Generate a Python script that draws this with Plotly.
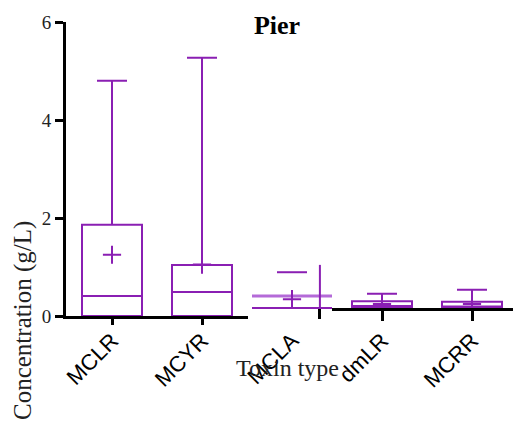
import plotly.graph_objects as go

# Toxin concentrations at the Pier site (box statistics, g/L)
categories = ["MCLR", "MCYR", "MCLA", "dmLR", "MCRR"]
q1 = [0.0, 0.0, 0.0, 0.0, 0.0]
median = [0.41, 0.49, 0.0, 0.04, 0.03]
q3 = [1.86, 1.04, 0.245, 0.14, 0.13]
lower = [0.0, 0.0, 0.0, 0.0, 0.0]
upper = [4.80, 5.27, 0.73, 0.29, 0.37]
mean = [1.25, 1.05, 0.18, 0.08, 0.08]
mcla_stem = 0.88
y_ticks = [0, 2, 4, 6]

PURPLE = "#8a1fb3"
LIGHT_PURPLE = "#b46ad8"
SERIF = "Liberation Serif"
SANS = "Liberation Sans"

# page geometry
FW, FH = 513, 430
ML, MR, MT, MB = 66, 0, 22, 114
PW, PH = FW - ML - MR, FH - MT - MB
CAT0, STEP = 112, 90          # pixel of first category, pixels per category
UNIT = PH / 6.0               # pixels per g/L
SHIFT = 8                     # right-hand baseline sits this many px higher


def xval(px):
    return (px - CAT0) / STEP


def xfrac(px):
    return (px - ML) / PW


left_idx = [0, 1]
right_idx = [3, 4]
mcla = 2

fig = go.Figure()

box_w = 60 / STEP


def add_box(i, yaxis):
    fig.add_trace(go.Box(
        x=[i], q1=[q1[i]], median=[median[i]], q3=[q3[i]],
        lowerfence=[lower[i]], upperfence=[upper[i]],
        width=box_w, whiskerwidth=0.5, boxpoints=False,
        line=dict(color=PURPLE, width=2), fillcolor="rgba(0,0,0,0)",
        xaxis="x", yaxis=yaxis, showlegend=False, hoverinfo="skip",
    ))


for i in left_idx:
    add_box(i, "y")
for i in right_idx:
    add_box(i, "y2")

# MCLA drawn as loose pieces
half = 40 / STEP
cap_half = 15 / STEP
fig.add_trace(go.Scatter(
    x=[mcla - half, mcla + half], y=[q3[mcla]] * 2, mode="lines",
    line=dict(color=LIGHT_PURPLE, width=3), xaxis="x", yaxis="y2",
    showlegend=False, hoverinfo="skip"))
fig.add_trace(go.Scatter(
    x=[mcla - half, mcla + half], y=[median[mcla]] * 2, mode="lines",
    line=dict(color=PURPLE, width=2), xaxis="x", yaxis="y2",
    showlegend=False, hoverinfo="skip"))
fig.add_trace(go.Scatter(
    x=[mcla - cap_half, mcla + cap_half], y=[upper[mcla]] * 2, mode="lines",
    line=dict(color=PURPLE, width=2), xaxis="x", yaxis="y2",
    showlegend=False, hoverinfo="skip"))
stem_x = mcla + 0.31
fig.add_trace(go.Scatter(
    x=[stem_x, stem_x], y=[0, mcla_stem], mode="lines",
    line=dict(color=PURPLE, width=2), xaxis="x", yaxis="y2",
    showlegend=False, hoverinfo="skip"))

# means
mk = dict(symbol="cross-thin", size=13, line=dict(color=PURPLE, width=2), color=PURPLE)
fig.add_trace(go.Scatter(
    x=left_idx, y=[mean[i] for i in left_idx], mode="markers", marker=mk,
    xaxis="x", yaxis="y", showlegend=False, hoverinfo="skip", cliponaxis=False))
fig.add_trace(go.Scatter(
    x=[mcla] + right_idx, y=[mean[mcla]] + [mean[i] for i in right_idx],
    mode="markers", marker=mk, xaxis="x", yaxis="y2", showlegend=False,
    hoverinfo="skip", cliponaxis=False))

# empty traces so the split axis-line subplots are built
for xa, ya in (("x2", "y"), ("x3", "y3"), ("x4", "y3")):
    fig.add_trace(go.Scatter(x=[], y=[], xaxis=xa, yaxis=ya, showlegend=False,
                             hoverinfo="skip"))

xr = [xval(ML), xval(FW - MR)]
y2_lo = -SHIFT / UNIT
nolabels = dict(showticklabels=False, showgrid=False, zeroline=False)

fig.update_layout(
    width=FW, height=FH,
    margin=dict(l=ML, r=MR, t=MT, b=MB, pad=0),
    paper_bgcolor="white", plot_bgcolor="rgba(0,0,0,0)",
    showlegend=False,
    title=dict(text="<b>Pier</b>", x=277 / FW, y=1 - 25 / FH,
               xref="container", yref="container",
               xanchor="center", yanchor="middle",
               font=dict(family=SERIF, size=26, color="black")),
    xaxis=dict(domain=[0, 1], range=xr, anchor="y",
               tickmode="array", tickvals=list(range(len(categories))),
               ticktext=categories, tickangle=-45,
               ticks="outside", ticklen=2, tickcolor="rgba(0,0,0,0)",
               showline=False, showgrid=False, zeroline=False,
               tickfont=dict(family=SANS, size=22, color="black")),
    xaxis2=dict(domain=[0, xfrac(248)], range=[xval(ML), xval(248)],
                anchor="y", showline=True, linecolor="black",
                linewidth=3, tickmode="array", tickvals=left_idx,
                ticks="outside", ticklen=6, tickwidth=3, tickcolor="black",
                **nolabels),
    xaxis3=dict(domain=[xfrac(332), 1], range=[xval(332), xval(FW - MR)],
                anchor="y3", showline=True, linecolor="black", linewidth=3,
                tickmode="array", tickvals=right_idx,
                ticks="outside", ticklen=10, tickwidth=3, tickcolor="black",
                **nolabels),
    xaxis4=dict(domain=[xfrac(314), xfrac(326)], range=[xval(314), xval(326)],
                anchor="y3", showline=False, tickmode="array", tickvals=[stem_x],
                ticks="outside", ticklen=10, tickwidth=3, tickcolor="black",
                **nolabels),
    yaxis=dict(domain=[0, 1], range=[0, 6], anchor="x",
               tickmode="array", tickvals=y_ticks,
               ticks="outside", ticklen=8, tickwidth=3, tickcolor="black",
               showline=True, linecolor="black", linewidth=3,
               showgrid=False, zeroline=False,
               tickfont=dict(family=SERIF, size=19, color="#222")),
    yaxis2=dict(domain=[0, 1], range=[y2_lo, 6 + y2_lo], overlaying="y",
                visible=False, showgrid=False, zeroline=False),
    yaxis3=dict(domain=[SHIFT / PH, 1], range=[0, 6 - SHIFT / UNIT],
                anchor="x3", visible=False, showgrid=False, zeroline=False),
)

fig.add_annotation(text="Concentration (g/L)", textangle=-90,
                   x=(23 - ML) / PW, y=(FH - MB - 321) / PH,
                   xref="paper", yref="paper", xanchor="center", yanchor="middle",
                   showarrow=False, font=dict(family=SERIF, size=25, color="#222"))
fig.add_annotation(text="Toxin type",
                   x=xfrac(287), y=(FH - MB - 368) / PH,
                   xref="paper", yref="paper", xanchor="center", yanchor="middle",
                   showarrow=False, font=dict(family=SERIF, size=24, color="#222"))

fig.write_html("out.html")
